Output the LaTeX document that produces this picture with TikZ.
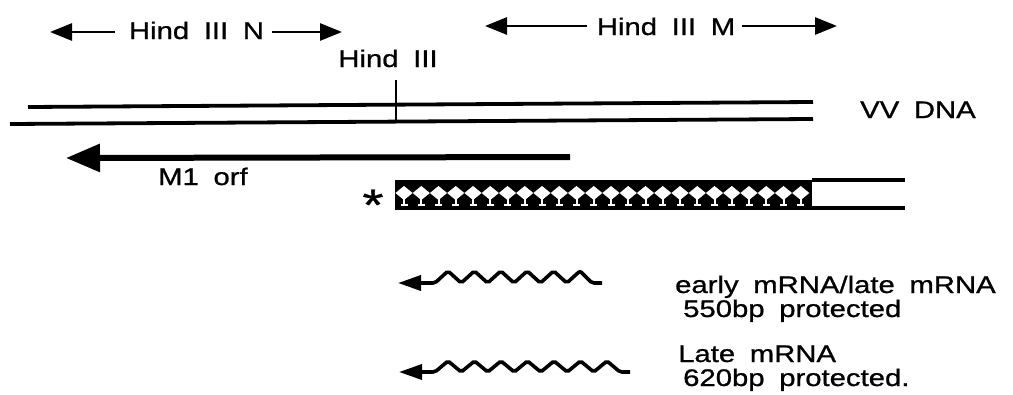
\documentclass[tikz,border=0pt]{standalone}
\usepackage{fontspec}
\setmainfont{Liberation Sans}[FakeStretch=1.22,WordSpace=1.8,FakeBold=0.9]
\usetikzlibrary{arrows.meta}
\begin{document}
\begin{tikzpicture}[x=1pt,y=-1pt,
  lbl/.style={inner sep=0pt,font=\fontsize{24}{28}\selectfont},
  dimarrow/.style={line width=2.8pt,-{Triangle[length=22pt,width=17pt]}},
  dna/.style={line width=3.8pt},
  orf/.style={line width=6pt,-{Triangle[length=34pt,width=27pt]}},
  wave/.style={line width=3.6pt,rounded corners=2pt,-{Triangle[length=23pt,width=15pt]}},
  probe/.style={line width=3.5pt}]
\useasboundingbox (0,0) rectangle (1013,394);

% top fragment labels
\node[lbl,anchor=base] (hn) at (196.5,39) {Hind III N};
\coordinate (hnl) at (115,32); \coordinate (hnlt) at (50,32);
\coordinate (hnr) at (272,32); \coordinate (hnrt) at (342,32);
\draw[dimarrow] (hnl) -- (hnlt);
\draw[dimarrow] (hnr) -- (hnrt);

\node[lbl,anchor=base] (hm) at (666,35) {Hind III M};
\coordinate (hml) at (587,26); \coordinate (hmlt) at (485,26);
\coordinate (hmr) at (742,26); \coordinate (hmrt) at (837,26);
\draw[dimarrow] (hml) -- (hmlt);
\draw[dimarrow] (hmr) -- (hmrt);

% Hind III site
\node[lbl,anchor=base] (site) at (388,67) {Hind III};
\coordinate (tk1) at (396,80); \coordinate (tk2) at (396,122);
\draw[line width=2.5pt] (tk1) -- (tk2);

% DNA
\coordinate (u1) at (28,107); \coordinate (u2) at (813,102);
\coordinate (l1) at (10,124); \coordinate (l2) at (813,119);
\draw[dna] (u1) -- (u2);
\draw[dna] (l1) -- (l2);
\node[lbl,anchor=base west] (vv) at (860,118) {VV DNA};

% M1 orf
\coordinate (o1) at (570,157); \coordinate (o2) at (66,158);
\draw[orf] (o1) -- (o2);
\node[lbl,anchor=base west] (m1) at (158,185) {M1 orf};

% probe
\node[inner sep=0pt,anchor=base,font=\fontsize{44}{44}\selectfont] (star) at (373,220) {*};
\coordinate (bx1) at (395,180); \coordinate (bx2) at (812,210);
\fill (bx1) rectangle (bx2);
\foreach \i in {0,...,23}{
  \pgfmathsetmacro{\cx}{404+17.25*\i}
  \fill[white] (\cx-8.6,193) -- (\cx,186) -- (\cx+8.6,193) -- (\cx,200) -- cycle;
  \fill[white] (\cx-1,199) rectangle (\cx+1,204);
  \fill[white] (\cx-3.5,203.5) rectangle (\cx+3.5,206);
}
\coordinate (pt) at (905,180); \coordinate (pb) at (905,208);
\draw[probe] (812,180) -- (pt);
\draw[probe] (812,208) -- (pb);

% protected fragments
\draw[wave] (602,283) -- (592,283)
  -- (580,271) -- (566.8,283) -- (553.6,271) -- (540.4,283)
  -- (527.2,271) -- (514,283) -- (500.8,271) -- (487.6,283)
  -- (474.4,271) -- (461.2,283) -- (448,271) -- (435,283) -- (398,283);
\node[lbl,anchor=base west] (t1) at (675,293) {early mRNA/late mRNA};
\node[lbl,anchor=base west] (t2) at (683,317) {550bp protected};

\draw[wave] (630,372) -- (620,372)
  -- (607,361) -- (593.75,372) -- (580.5,361) -- (567.25,372)
  -- (554,361) -- (540.75,372) -- (527.5,361) -- (514.25,372)
  -- (501,361) -- (487.75,372) -- (474.5,361) -- (461.25,372)
  -- (448,361) -- (435,372) -- (399,372);
\node[lbl,anchor=base west] (t3) at (678,362) {Late mRNA};
\node[lbl,anchor=base west] (t4) at (683,386) {620bp protected.};
\end{tikzpicture}
\end{document}
